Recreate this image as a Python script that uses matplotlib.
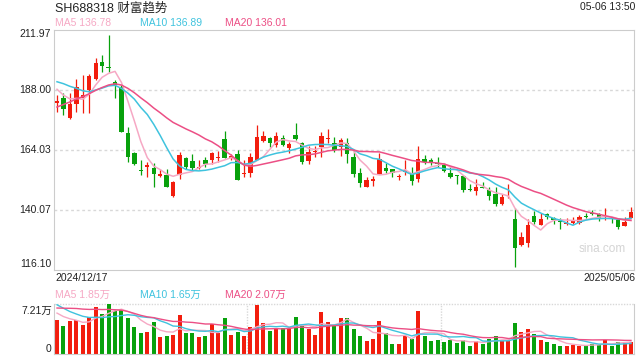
import numpy as np
import pandas as pd
import matplotlib
matplotlib.use('Agg')
import matplotlib.pyplot as plt

plt.rcParams['font.family'] = ['Liberation Sans', 'Noto Sans CJK SC', 'DejaVu Sans']

title = 'SH688318 财富趋势'
stamp = '05-06 13:50'
first_date = '2024/12/17'
last_date = '2025/05/06'

# daily candles, 2024/12/17 .. 2025/05/06
opens = [182.7, 184.7, 176.7, 182.4, 184.9, 188.0, 192.4, 199.3, 197.2, 191.1,
         189.3, 170.7, 162.7, 156.2, 157.4, 157.0, 153.8, 154.1, 145.8, 154.1,
         161.0, 159.6, 156.7, 160.0, 160.0, 160.7, 168.3, 160.7, 162.4, 154.5,
         155.0, 160.0, 167.8, 168.7, 166.0, 168.7, 164.7, 170.0, 166.7, 159.8,
         163.2, 165.4, 168.3, 166.7, 165.1, 166.7, 161.4, 154.7, 149.4, 151.8,
         154.5, 157.0, 156.3, 153.3, 155.4, 154.7, 152.5, 160.3, 160.0, 159.0,
         158.1, 154.7, 153.9, 153.7, 148.5, 147.7, 149.4, 148.1, 146.5, 142.3,
         145.1, 136.5, 126.1, 127.0, 137.7, 134.1, 138.4, 137.0, 135.8, 134.4,
         134.7, 135.0, 137.7, 139.0, 138.4, 137.2, 137.0, 136.1, 133.8, 137.0]
highs = [186.0, 186.7, 186.7, 192.3, 194.0, 194.3, 200.6, 202.0, 210.0, 192.0,
         190.0, 173.1, 163.4, 160.0, 159.1, 159.0, 156.3, 156.3, 151.7, 163.4,
         161.4, 162.4, 160.0, 161.1, 163.4, 163.8, 171.8, 162.4, 164.0, 160.0,
         163.0, 174.0, 171.8, 169.4, 171.4, 170.0, 167.4, 174.7, 167.4, 165.6,
         165.6, 171.4, 172.4, 169.1, 168.7, 168.7, 164.0, 156.7, 153.1, 153.7,
         162.7, 159.0, 156.6, 154.5, 160.0, 157.4, 165.6, 162.0, 161.0, 161.4,
         159.0, 157.1, 154.2, 153.9, 150.5, 152.3, 151.4, 149.4, 149.1, 146.5,
         150.5, 140.7, 131.4, 136.3, 139.7, 139.0, 139.0, 137.4, 136.7, 136.7,
         137.4, 138.1, 139.0, 140.1, 139.0, 140.7, 137.2, 137.0, 137.4, 141.1]
lows = [179.4, 178.0, 176.4, 179.4, 179.0, 178.9, 192.0, 195.3, 195.3, 184.7,
        171.1, 159.4, 158.0, 154.0, 153.4, 149.4, 153.1, 149.1, 145.4, 152.3,
        156.3, 156.1, 156.3, 157.1, 158.3, 159.4, 160.7, 160.0, 152.0, 153.4,
        153.4, 160.0, 167.4, 165.1, 165.4, 165.6, 162.7, 168.0, 158.4, 158.4,
        161.1, 161.1, 167.0, 163.4, 161.6, 159.0, 153.1, 149.4, 149.1, 149.7,
        154.5, 155.0, 153.1, 152.1, 154.1, 150.1, 151.4, 158.4, 158.1, 157.4,
        155.4, 152.7, 150.5, 147.1, 147.5, 146.1, 148.7, 144.1, 141.7, 142.1,
        144.9, 117.2, 125.8, 125.4, 134.5, 134.1, 136.3, 134.5, 132.5, 134.1,
        134.4, 134.4, 137.0, 137.9, 135.8, 136.1, 135.0, 132.5, 133.7, 136.7]
closes = [183.7, 180.3, 182.4, 189.1, 186.0, 193.7, 198.9, 197.7, 196.9, 190.0,
          171.4, 161.4, 158.3, 155.8, 158.1, 154.5, 154.3, 149.4, 151.4, 162.0,
          157.4, 157.0, 157.0, 158.3, 162.7, 161.4, 161.0, 161.6, 152.1, 155.0,
          161.1, 169.1, 169.6, 166.7, 169.6, 166.0, 166.4, 168.4, 159.4, 163.2,
          163.8, 169.6, 169.0, 164.0, 168.0, 162.4, 154.5, 151.0, 152.1, 152.5,
          160.3, 155.8, 155.0, 153.7, 156.1, 151.8, 160.3, 159.4, 159.0, 158.5,
          155.8, 153.4, 153.7, 148.1, 148.1, 149.4, 149.0, 145.8, 142.5, 145.4,
          145.4, 125.0, 129.4, 134.1, 135.4, 136.5, 137.4, 136.1, 135.4, 134.7,
          135.8, 137.4, 137.4, 138.4, 137.0, 137.4, 136.7, 133.4, 135.4, 139.1]
# volume in 万 shares
volumes = [4.95, 3.99, 4.71, 4.95, 4.23, 5.29, 6.78, 5.82, 7.16, 6.15,
           6.39, 5.14, 3.85, 2.98, 3.22, 4.66, 2.50, 2.64, 2.79, 5.67,
           3.08, 3.03, 2.50, 2.64, 4.33, 2.98, 5.24, 2.79, 3.12, 2.64,
           3.94, 7.11, 4.42, 3.36, 3.75, 3.75, 3.80, 5.38, 4.09, 3.65,
           2.69, 6.10, 4.57, 3.99, 5.24, 5.24, 3.65, 2.64, 1.83, 2.21,
           4.81, 3.08, 1.49, 1.49, 2.64, 2.21, 6.25, 2.64, 1.92, 2.07,
           1.78, 2.07, 1.63, 2.07, 1.20, 1.92, 1.49, 2.21, 2.64, 1.92,
           1.92, 4.52, 3.22, 3.65, 2.93, 2.07, 1.78, 1.49, 1.20, 1.20,
           1.35, 1.20, 1.20, 1.49, 1.35, 2.07, 1.20, 1.78, 1.78, 1.78]

# sessions before the window, only feed the moving averages
pre_closes = [160, 162, 165, 168, 170, 172, 175, 177, 180, 182,
              188, 193, 197, 196, 197.5, 192, 190, 188, 187.8]
pre_volumes = [4.5, 5.0, 5.5, 6.0, 6.2, 6.4, 6.6, 6.8, 7.0, 7.6,
               9.0, 9.5, 8.5, 7.5, 7.0, 6.5, 6.3, 6.0, 5.75]

price_ticks = [211.97, 188.00, 164.03, 140.07, 116.10]
vol_top = 7.21
ma_names = ['MA5', 'MA10', 'MA20']
ma_windows = [5, 10, 20]
ma_last = ['136.78', '136.89', '136.01']
vol_ma_last = ['1.85万', '1.65万', '2.07万']
ma_colors = ['#f6a8c4', '#3fc3de', '#ec4f85']

RED = '#f21d0d'
GREEN = '#08a10c'
GRID = '#d8d8d8'
FRAME = '#cccccc'


def px(x, y):
    return x / 640, 1 - y / 360


n = len(closes)
x = np.arange(n)
o = np.array(opens)
c = np.array(closes)
up = c >= o
colors = np.where(up, RED, GREEN)

all_close = pd.Series(pre_closes + closes)
all_vol = pd.Series(pre_volumes + volumes)
k = len(pre_closes)

fig = plt.figure(figsize=(6.4, 3.6), dpi=100)
ax = fig.add_axes([54 / 640, 90 / 360, 580 / 640, 240 / 360])
vax = fig.add_axes([54 / 640, 6 / 360, 580 / 640, 50 / 360])

# price panel
for v in price_ticks[1:-1]:
    ax.axhline(v, color=GRID, lw=1, ls=(0, (2, 2)), zorder=0)
ax.vlines(x, lows, highs, colors=colors, lw=0.9, zorder=2)
body_lo = np.minimum(o, c)
body_h = np.maximum(np.abs(c - o), 0.35)
ax.bar(x, body_h, bottom=body_lo, width=0.68, color=colors, lw=0, zorder=3)
for w, col in zip(ma_windows, ma_colors):
    ma = all_close.rolling(w).mean().values[k:]
    ax.plot(x, ma, color=col, lw=1.1, zorder=4)
ax.set_xlim(-0.465, n - 1 + 0.465)
ax.set_ylim(price_ticks[-1], price_ticks[0])
ax.set_xticks([])
ax.set_yticks([])
for s in ax.spines.values():
    s.set_color(FRAME)
fig.text(*px(602, 249), 'sina.com', color='#d4d4d4', fontsize=8.5,
         ha='center', va='center')

# volume panel
vax.bar(x, volumes, width=0.62, color=colors, lw=0, zorder=2)
for w, col in zip(ma_windows, ma_colors):
    ma = all_vol.rolling(w).mean().values[k:]
    vax.plot(x, ma, color=col, lw=1.0, zorder=3)
vax.set_xlim(-0.465, n - 1 + 0.465)
vax.set_ylim(0, vol_top)
vax.axhline(vol_top, color=GRID, lw=1, ls=(0, (1, 1)), zorder=0, clip_on=False)
for f in [1 / 3, 2 / 3]:
    vax.plot([f, f], [0, 1], transform=vax.transAxes, color=GRID, lw=1,
             ls=(0, (1, 1)), zorder=0)
vax.set_xticks([])
vax.set_yticks([])
vax.spines['top'].set_visible(False)
for s in ['left', 'right', 'bottom']:
    vax.spines[s].set_color(FRAME)

# texts
fig.text(*px(55, 8.5), title, fontsize=9, color='#222222', va='center')
fig.text(*px(635, 7), stamp, fontsize=7.5, color='#222222', ha='right', va='center')
for i, (name, val, col) in enumerate(zip(ma_names, ma_last, ma_colors)):
    fig.text(*px(55 + 85 * i, 23.5), f'{name} {val}', fontsize=7.5, color=col, va='center')
    fig.text(*px(55 + 85 * i, 295), f'{name} {vol_ma_last[i]}', fontsize=7.5,
             color=col, va='center')

label_y = [34, 90, 150, 210, 264]
for v, yy in zip(price_ticks, label_y):
    fig.text(*px(51, yy), f'{v:.2f}', fontsize=7.5, color='#222222', ha='right', va='center')
fig.text(*px(52, 311), f'{vol_top}万', fontsize=7.5, color='#222222', ha='right', va='center')
fig.text(*px(51, 349), '0', fontsize=7.5, color='#222222', ha='right', va='center')

fig.text(*px(55, 278), first_date, fontsize=7.5, color='#222222', va='center')
fig.text(*px(635, 278), last_date, fontsize=7.5, color='#222222', ha='right', va='center')

fig.savefig('out.png', dpi=100)
